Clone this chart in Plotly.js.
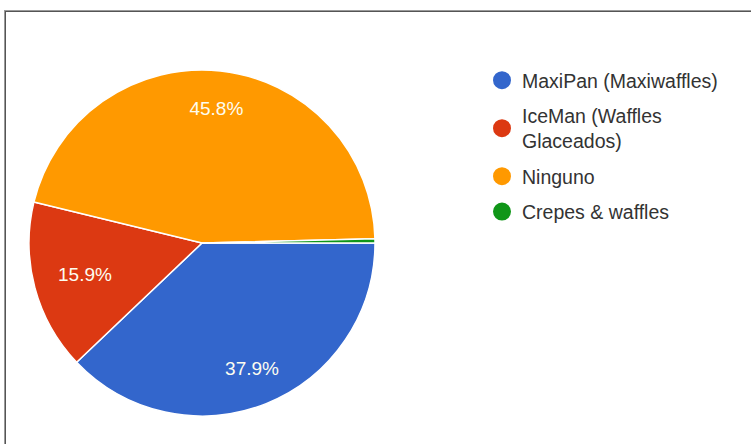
<!DOCTYPE html>
<html>
<head>
<meta charset="utf-8">
<script src="https://cdn.plot.ly/plotly-3.0.1.min.js"></script>
<style>
html,body{margin:0;padding:0;background:#fff;}
#wrap{position:relative;width:751px;height:444px;overflow:hidden;}
#chart{position:absolute;left:0;top:0;width:751px;height:444px;}
#frame{position:absolute;left:4px;top:10px;width:800px;height:500px;border-left:1px solid #9a9a9a;border-top:1px solid #9a9a9a;pointer-events:none;}
#frame2{position:absolute;left:5px;top:11px;width:800px;height:500px;border-left:1px solid #555;border-top:1px solid #555;pointer-events:none;}
</style>
</head>
<body>
<div id="wrap">
<div id="chart"></div>
<div id="frame"></div>
<div id="frame2"></div>
</div>
<script>
const categories = ['MaxiPan (Maxiwaffles)', 'IceMan (Waffles<br>Glaceados)', 'Ninguno', 'Crepes & waffles'];
const percents = [37.9, 15.9, 45.8, 0.4];
const outerLabelTemplates = ['%{percent:.1%}', '', '%{percent:.1%}', ''];
const innerLabelTemplates = ['', '%{percent:.1%}', '', ''];
const colors = ['#3366cc', '#dc3912', '#ff9900', '#109618'];

const W = 751, H = 444;
const dom = {x: [29 / W, 375 / W], y: [1 - 416 / H, 1 - 70 / H]};
const labelFont = {color: '#fdfdf0', size: 19, family: 'Arial, "Liberation Sans", sans-serif'};

const traces = [];
traces.push({
  type: 'pie',
  labels: categories,
  values: percents,
  sort: false,
  direction: 'clockwise',
  rotation: 90,
  domain: dom,
  marker: {colors: colors, line: {color: '#ffffff', width: 1.5}},
  textinfo: 'none',
  hoverinfo: 'label+percent',
  showlegend: false
});
// transparent rings carrying the percentage labels
function labelRing(hole, templates) {
  return {
    type: 'pie',
    labels: categories,
    values: percents,
    sort: false,
    direction: 'clockwise',
    rotation: 90,
    hole: hole,
    domain: dom,
    marker: {colors: categories.map(() => 'rgba(0,0,0,0)'), line: {width: 0}},
    texttemplate: templates,
    textposition: 'inside',
    insidetextorientation: 'horizontal',
    insidetextfont: labelFont,
    hoverinfo: 'skip',
    showlegend: false
  };
}
traces.push(labelRing(0.56, outerLabelTemplates));
traces.push(labelRing(0.40, innerLabelTemplates));
// legend entries with round markers
categories.forEach((c, i) => {
  traces.push({
    type: 'scatter',
    mode: 'markers',
    x: [null], y: [null],
    name: c,
    legendgroup: 'g' + i,
    marker: {color: colors[i], size: 16, symbol: 'circle', line: {color: colors[i], width: 2}},
    showlegend: true,
    hoverinfo: 'skip'
  });
});

const layout = {
  width: W, height: H,
  margin: {l: 0, r: 0, t: 0, b: 0},
  paper_bgcolor: '#ffffff',
  plot_bgcolor: 'rgba(0,0,0,0)',
  xaxis: {visible: false},
  yaxis: {visible: false},
  showlegend: true,
  legend: {
    x: 482 / W, xanchor: 'left',
    y: 1 - 61 / H, yanchor: 'top',
    font: {family: 'Arial, "Liberation Sans", sans-serif', size: 19.5, color: '#333333'},
    tracegroupgap: 7,
    bgcolor: 'rgba(0,0,0,0)',
    itemclick: false
  }
};

Plotly.newPlot('chart', traces, layout, {displayModeBar: false, staticPlot: true});
</script>
</body>
</html>
